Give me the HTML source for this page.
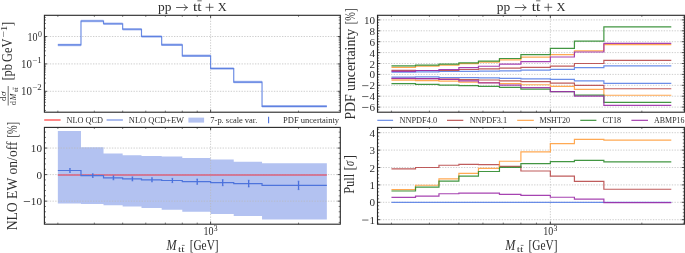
<!DOCTYPE html>
<html><head><meta charset="utf-8"><style>
html,body{margin:0;padding:0;background:#fff;}
svg{display:block;will-change:transform;font-family:"Liberation Serif",serif;}
text{fill:#2e2e2e;}
</style></head><body>
<svg width="685" height="253" viewBox="0 0 685 253">
<rect width="685" height="253" fill="#fff"/>
<line x1="44.4" y1="36.5" x2="340.3" y2="36.5" stroke="#b9b9b9" stroke-width="0.7" stroke-dasharray="1.35 1.35"/>
<line x1="44.4" y1="63.9" x2="340.3" y2="63.9" stroke="#b9b9b9" stroke-width="0.7" stroke-dasharray="1.35 1.35"/>
<line x1="44.4" y1="91.3" x2="340.3" y2="91.3" stroke="#b9b9b9" stroke-width="0.7" stroke-dasharray="1.35 1.35"/>
<line x1="210.6" y1="15.3" x2="210.6" y2="112.2" stroke="#b9b9b9" stroke-width="0.7" stroke-dasharray="1.35 1.35"/>
<path d="M57.85,43.65H80.98V19.75H103.52V22.45H122.66V27.95H141.49V35.25H161.67V43.55H182.29V54.55H210.6V67.25H233.73V80.85H262.04V105.05H326.85V107.55H262.04V83.35H233.73V69.75H210.6V57.05H182.29V46.05H161.67V37.75H141.49V30.45H122.66V24.95H103.52V22.25H80.98V46.15H57.85Z" fill="#b3c2f1"/>
<path d="M57.85,44.9H80.98V21H103.52V23.7H122.66V29.2H141.49V36.5H161.67V44.8H182.29V55.8H210.6V68.5H233.73V82.1H262.04V106.3H326.85" fill="none" stroke="#4f76de" stroke-width="1.15" stroke-opacity="0.85"/>
<line x1="44.4" y1="110.45" x2="46" y2="110.45" stroke="#262626" stroke-width="0.6"/>
<line x1="340.3" y1="110.45" x2="338.7" y2="110.45" stroke="#262626" stroke-width="0.6"/>
<line x1="44.4" y1="105.63" x2="46" y2="105.63" stroke="#262626" stroke-width="0.6"/>
<line x1="340.3" y1="105.63" x2="338.7" y2="105.63" stroke="#262626" stroke-width="0.6"/>
<line x1="44.4" y1="102.2" x2="46" y2="102.2" stroke="#262626" stroke-width="0.6"/>
<line x1="340.3" y1="102.2" x2="338.7" y2="102.2" stroke="#262626" stroke-width="0.6"/>
<line x1="44.4" y1="99.55" x2="46" y2="99.55" stroke="#262626" stroke-width="0.6"/>
<line x1="340.3" y1="99.55" x2="338.7" y2="99.55" stroke="#262626" stroke-width="0.6"/>
<line x1="44.4" y1="97.38" x2="46" y2="97.38" stroke="#262626" stroke-width="0.6"/>
<line x1="340.3" y1="97.38" x2="338.7" y2="97.38" stroke="#262626" stroke-width="0.6"/>
<line x1="44.4" y1="95.54" x2="46" y2="95.54" stroke="#262626" stroke-width="0.6"/>
<line x1="340.3" y1="95.54" x2="338.7" y2="95.54" stroke="#262626" stroke-width="0.6"/>
<line x1="44.4" y1="93.96" x2="46" y2="93.96" stroke="#262626" stroke-width="0.6"/>
<line x1="340.3" y1="93.96" x2="338.7" y2="93.96" stroke="#262626" stroke-width="0.6"/>
<line x1="44.4" y1="92.55" x2="46" y2="92.55" stroke="#262626" stroke-width="0.6"/>
<line x1="340.3" y1="92.55" x2="338.7" y2="92.55" stroke="#262626" stroke-width="0.6"/>
<line x1="44.4" y1="83.05" x2="46" y2="83.05" stroke="#262626" stroke-width="0.6"/>
<line x1="340.3" y1="83.05" x2="338.7" y2="83.05" stroke="#262626" stroke-width="0.6"/>
<line x1="44.4" y1="78.23" x2="46" y2="78.23" stroke="#262626" stroke-width="0.6"/>
<line x1="340.3" y1="78.23" x2="338.7" y2="78.23" stroke="#262626" stroke-width="0.6"/>
<line x1="44.4" y1="74.8" x2="46" y2="74.8" stroke="#262626" stroke-width="0.6"/>
<line x1="340.3" y1="74.8" x2="338.7" y2="74.8" stroke="#262626" stroke-width="0.6"/>
<line x1="44.4" y1="72.15" x2="46" y2="72.15" stroke="#262626" stroke-width="0.6"/>
<line x1="340.3" y1="72.15" x2="338.7" y2="72.15" stroke="#262626" stroke-width="0.6"/>
<line x1="44.4" y1="69.98" x2="46" y2="69.98" stroke="#262626" stroke-width="0.6"/>
<line x1="340.3" y1="69.98" x2="338.7" y2="69.98" stroke="#262626" stroke-width="0.6"/>
<line x1="44.4" y1="68.14" x2="46" y2="68.14" stroke="#262626" stroke-width="0.6"/>
<line x1="340.3" y1="68.14" x2="338.7" y2="68.14" stroke="#262626" stroke-width="0.6"/>
<line x1="44.4" y1="66.56" x2="46" y2="66.56" stroke="#262626" stroke-width="0.6"/>
<line x1="340.3" y1="66.56" x2="338.7" y2="66.56" stroke="#262626" stroke-width="0.6"/>
<line x1="44.4" y1="65.15" x2="46" y2="65.15" stroke="#262626" stroke-width="0.6"/>
<line x1="340.3" y1="65.15" x2="338.7" y2="65.15" stroke="#262626" stroke-width="0.6"/>
<line x1="44.4" y1="55.65" x2="46" y2="55.65" stroke="#262626" stroke-width="0.6"/>
<line x1="340.3" y1="55.65" x2="338.7" y2="55.65" stroke="#262626" stroke-width="0.6"/>
<line x1="44.4" y1="50.83" x2="46" y2="50.83" stroke="#262626" stroke-width="0.6"/>
<line x1="340.3" y1="50.83" x2="338.7" y2="50.83" stroke="#262626" stroke-width="0.6"/>
<line x1="44.4" y1="47.4" x2="46" y2="47.4" stroke="#262626" stroke-width="0.6"/>
<line x1="340.3" y1="47.4" x2="338.7" y2="47.4" stroke="#262626" stroke-width="0.6"/>
<line x1="44.4" y1="44.75" x2="46" y2="44.75" stroke="#262626" stroke-width="0.6"/>
<line x1="340.3" y1="44.75" x2="338.7" y2="44.75" stroke="#262626" stroke-width="0.6"/>
<line x1="44.4" y1="42.58" x2="46" y2="42.58" stroke="#262626" stroke-width="0.6"/>
<line x1="340.3" y1="42.58" x2="338.7" y2="42.58" stroke="#262626" stroke-width="0.6"/>
<line x1="44.4" y1="40.74" x2="46" y2="40.74" stroke="#262626" stroke-width="0.6"/>
<line x1="340.3" y1="40.74" x2="338.7" y2="40.74" stroke="#262626" stroke-width="0.6"/>
<line x1="44.4" y1="39.16" x2="46" y2="39.16" stroke="#262626" stroke-width="0.6"/>
<line x1="340.3" y1="39.16" x2="338.7" y2="39.16" stroke="#262626" stroke-width="0.6"/>
<line x1="44.4" y1="37.75" x2="46" y2="37.75" stroke="#262626" stroke-width="0.6"/>
<line x1="340.3" y1="37.75" x2="338.7" y2="37.75" stroke="#262626" stroke-width="0.6"/>
<line x1="44.4" y1="28.25" x2="46" y2="28.25" stroke="#262626" stroke-width="0.6"/>
<line x1="340.3" y1="28.25" x2="338.7" y2="28.25" stroke="#262626" stroke-width="0.6"/>
<line x1="44.4" y1="23.43" x2="46" y2="23.43" stroke="#262626" stroke-width="0.6"/>
<line x1="340.3" y1="23.43" x2="338.7" y2="23.43" stroke="#262626" stroke-width="0.6"/>
<line x1="44.4" y1="20" x2="46" y2="20" stroke="#262626" stroke-width="0.6"/>
<line x1="340.3" y1="20" x2="338.7" y2="20" stroke="#262626" stroke-width="0.6"/>
<line x1="44.4" y1="17.35" x2="46" y2="17.35" stroke="#262626" stroke-width="0.6"/>
<line x1="340.3" y1="17.35" x2="338.7" y2="17.35" stroke="#262626" stroke-width="0.6"/>
<line x1="44.4" y1="36.5" x2="47.1" y2="36.5" stroke="#262626" stroke-width="0.8"/>
<line x1="340.3" y1="36.5" x2="337.6" y2="36.5" stroke="#262626" stroke-width="0.8"/>
<line x1="44.4" y1="63.9" x2="47.1" y2="63.9" stroke="#262626" stroke-width="0.8"/>
<line x1="340.3" y1="63.9" x2="337.6" y2="63.9" stroke="#262626" stroke-width="0.8"/>
<line x1="44.4" y1="91.3" x2="47.1" y2="91.3" stroke="#262626" stroke-width="0.8"/>
<line x1="340.3" y1="91.3" x2="337.6" y2="91.3" stroke="#262626" stroke-width="0.8"/>
<line x1="57.85" y1="15.3" x2="57.85" y2="16.9" stroke="#262626" stroke-width="0.6"/>
<line x1="57.85" y1="112.2" x2="57.85" y2="110.6" stroke="#262626" stroke-width="0.6"/>
<line x1="94.35" y1="15.3" x2="94.35" y2="16.9" stroke="#262626" stroke-width="0.6"/>
<line x1="94.35" y1="112.2" x2="94.35" y2="110.6" stroke="#262626" stroke-width="0.6"/>
<line x1="122.66" y1="15.3" x2="122.66" y2="16.9" stroke="#262626" stroke-width="0.6"/>
<line x1="122.66" y1="112.2" x2="122.66" y2="110.6" stroke="#262626" stroke-width="0.6"/>
<line x1="145.79" y1="15.3" x2="145.79" y2="16.9" stroke="#262626" stroke-width="0.6"/>
<line x1="145.79" y1="112.2" x2="145.79" y2="110.6" stroke="#262626" stroke-width="0.6"/>
<line x1="165.35" y1="15.3" x2="165.35" y2="16.9" stroke="#262626" stroke-width="0.6"/>
<line x1="165.35" y1="112.2" x2="165.35" y2="110.6" stroke="#262626" stroke-width="0.6"/>
<line x1="182.29" y1="15.3" x2="182.29" y2="16.9" stroke="#262626" stroke-width="0.6"/>
<line x1="182.29" y1="112.2" x2="182.29" y2="110.6" stroke="#262626" stroke-width="0.6"/>
<line x1="197.23" y1="15.3" x2="197.23" y2="16.9" stroke="#262626" stroke-width="0.6"/>
<line x1="197.23" y1="112.2" x2="197.23" y2="110.6" stroke="#262626" stroke-width="0.6"/>
<line x1="298.54" y1="15.3" x2="298.54" y2="16.9" stroke="#262626" stroke-width="0.6"/>
<line x1="298.54" y1="112.2" x2="298.54" y2="110.6" stroke="#262626" stroke-width="0.6"/>
<line x1="210.6" y1="15.3" x2="210.6" y2="18" stroke="#262626" stroke-width="0.8"/>
<line x1="210.6" y1="112.2" x2="210.6" y2="109.5" stroke="#262626" stroke-width="0.8"/>
<rect x="44.4" y="15.3" width="295.9" height="96.9" fill="none" stroke="#262626" stroke-width="1.1"/>
<path d="M57.85,130.9H80.98V147.2H103.52V153.4H122.66V155.2H141.49V156.1H161.67V156.6H182.29V157.9H210.6V159.5H233.73V161.7H262.04V163.2H326.85V219.6H262.04V215.9H233.73V213.9H210.6V211.8H182.29V209.8H161.67V208H141.49V206.6H122.66V205.2H103.52V204H80.98V203.5H57.85Z" fill="#b3c2f1"/>
<line x1="44.4" y1="148.05" x2="340.3" y2="148.05" stroke="#b9b9b9" stroke-width="0.7" stroke-dasharray="1.35 1.35"/>
<line x1="44.4" y1="174.6" x2="340.3" y2="174.6" stroke="#b9b9b9" stroke-width="0.7" stroke-dasharray="1.35 1.35"/>
<line x1="44.4" y1="201.15" x2="340.3" y2="201.15" stroke="#b9b9b9" stroke-width="0.7" stroke-dasharray="1.35 1.35"/>
<line x1="210.6" y1="127.4" x2="210.6" y2="224.2" stroke="#b9b9b9" stroke-width="0.7" stroke-dasharray="1.35 1.35"/>
<line x1="57.85" y1="174.95" x2="326.85" y2="174.95" stroke="#da607c" stroke-width="1.6"/>
<path d="M57.85,170.5H80.98V175.6H103.52V177.8H122.66V178.9H141.49V179.8H161.67V180.5H182.29V181.7H210.6V182.7H233.73V183.6H262.04V185.4H326.85" fill="none" stroke="#4e74dc" stroke-width="1.2"/>
<line x1="69.94" y1="168.6" x2="69.94" y2="172.4" stroke="#4a70dc" stroke-width="1.3"/>
<line x1="69.14" y1="168.6" x2="70.74" y2="168.6" stroke="#4a70dc" stroke-width="0.8"/>
<line x1="69.14" y1="172.4" x2="70.74" y2="172.4" stroke="#4a70dc" stroke-width="0.8"/>
<line x1="92.75" y1="173.8" x2="92.75" y2="177.4" stroke="#4a70dc" stroke-width="1.3"/>
<line x1="91.95" y1="173.8" x2="93.55" y2="173.8" stroke="#4a70dc" stroke-width="0.8"/>
<line x1="91.95" y1="177.4" x2="93.55" y2="177.4" stroke="#4a70dc" stroke-width="0.8"/>
<line x1="113.45" y1="175.85" x2="113.45" y2="179.75" stroke="#4a70dc" stroke-width="1.3"/>
<line x1="112.65" y1="175.85" x2="114.25" y2="175.85" stroke="#4a70dc" stroke-width="0.8"/>
<line x1="112.65" y1="179.75" x2="114.25" y2="179.75" stroke="#4a70dc" stroke-width="0.8"/>
<line x1="132.42" y1="176.95" x2="132.42" y2="180.85" stroke="#4a70dc" stroke-width="1.3"/>
<line x1="131.62" y1="176.95" x2="133.22" y2="176.95" stroke="#4a70dc" stroke-width="0.8"/>
<line x1="131.62" y1="180.85" x2="133.22" y2="180.85" stroke="#4a70dc" stroke-width="0.8"/>
<line x1="151.98" y1="177.8" x2="151.98" y2="181.8" stroke="#4a70dc" stroke-width="1.3"/>
<line x1="151.18" y1="177.8" x2="152.78" y2="177.8" stroke="#4a70dc" stroke-width="0.8"/>
<line x1="151.18" y1="181.8" x2="152.78" y2="181.8" stroke="#4a70dc" stroke-width="0.8"/>
<line x1="172.4" y1="178.4" x2="172.4" y2="182.6" stroke="#4a70dc" stroke-width="1.3"/>
<line x1="171.6" y1="178.4" x2="173.2" y2="178.4" stroke="#4a70dc" stroke-width="0.8"/>
<line x1="171.6" y1="182.6" x2="173.2" y2="182.6" stroke="#4a70dc" stroke-width="0.8"/>
<line x1="197.23" y1="179.1" x2="197.23" y2="184.3" stroke="#4a70dc" stroke-width="1.3"/>
<line x1="196.43" y1="179.1" x2="198.03" y2="179.1" stroke="#4a70dc" stroke-width="0.8"/>
<line x1="196.43" y1="184.3" x2="198.03" y2="184.3" stroke="#4a70dc" stroke-width="0.8"/>
<line x1="222.69" y1="179.7" x2="222.69" y2="185.7" stroke="#4a70dc" stroke-width="1.3"/>
<line x1="221.89" y1="179.7" x2="223.49" y2="179.7" stroke="#4a70dc" stroke-width="0.8"/>
<line x1="221.89" y1="185.7" x2="223.49" y2="185.7" stroke="#4a70dc" stroke-width="0.8"/>
<line x1="248.67" y1="180.3" x2="248.67" y2="186.9" stroke="#4a70dc" stroke-width="1.3"/>
<line x1="247.87" y1="180.3" x2="249.47" y2="180.3" stroke="#4a70dc" stroke-width="0.8"/>
<line x1="247.87" y1="186.9" x2="249.47" y2="186.9" stroke="#4a70dc" stroke-width="0.8"/>
<line x1="298.54" y1="181.2" x2="298.54" y2="189.6" stroke="#4a70dc" stroke-width="1.3"/>
<line x1="297.74" y1="181.2" x2="299.34" y2="181.2" stroke="#4a70dc" stroke-width="0.8"/>
<line x1="297.74" y1="189.6" x2="299.34" y2="189.6" stroke="#4a70dc" stroke-width="0.8"/>
<line x1="44.4" y1="222.39" x2="46" y2="222.39" stroke="#262626" stroke-width="0.6"/>
<line x1="340.3" y1="222.39" x2="338.7" y2="222.39" stroke="#262626" stroke-width="0.6"/>
<line x1="44.4" y1="217.08" x2="46" y2="217.08" stroke="#262626" stroke-width="0.6"/>
<line x1="340.3" y1="217.08" x2="338.7" y2="217.08" stroke="#262626" stroke-width="0.6"/>
<line x1="44.4" y1="211.77" x2="46" y2="211.77" stroke="#262626" stroke-width="0.6"/>
<line x1="340.3" y1="211.77" x2="338.7" y2="211.77" stroke="#262626" stroke-width="0.6"/>
<line x1="44.4" y1="206.46" x2="46" y2="206.46" stroke="#262626" stroke-width="0.6"/>
<line x1="340.3" y1="206.46" x2="338.7" y2="206.46" stroke="#262626" stroke-width="0.6"/>
<line x1="44.4" y1="195.84" x2="46" y2="195.84" stroke="#262626" stroke-width="0.6"/>
<line x1="340.3" y1="195.84" x2="338.7" y2="195.84" stroke="#262626" stroke-width="0.6"/>
<line x1="44.4" y1="190.53" x2="46" y2="190.53" stroke="#262626" stroke-width="0.6"/>
<line x1="340.3" y1="190.53" x2="338.7" y2="190.53" stroke="#262626" stroke-width="0.6"/>
<line x1="44.4" y1="185.22" x2="46" y2="185.22" stroke="#262626" stroke-width="0.6"/>
<line x1="340.3" y1="185.22" x2="338.7" y2="185.22" stroke="#262626" stroke-width="0.6"/>
<line x1="44.4" y1="179.91" x2="46" y2="179.91" stroke="#262626" stroke-width="0.6"/>
<line x1="340.3" y1="179.91" x2="338.7" y2="179.91" stroke="#262626" stroke-width="0.6"/>
<line x1="44.4" y1="169.29" x2="46" y2="169.29" stroke="#262626" stroke-width="0.6"/>
<line x1="340.3" y1="169.29" x2="338.7" y2="169.29" stroke="#262626" stroke-width="0.6"/>
<line x1="44.4" y1="163.98" x2="46" y2="163.98" stroke="#262626" stroke-width="0.6"/>
<line x1="340.3" y1="163.98" x2="338.7" y2="163.98" stroke="#262626" stroke-width="0.6"/>
<line x1="44.4" y1="158.67" x2="46" y2="158.67" stroke="#262626" stroke-width="0.6"/>
<line x1="340.3" y1="158.67" x2="338.7" y2="158.67" stroke="#262626" stroke-width="0.6"/>
<line x1="44.4" y1="153.36" x2="46" y2="153.36" stroke="#262626" stroke-width="0.6"/>
<line x1="340.3" y1="153.36" x2="338.7" y2="153.36" stroke="#262626" stroke-width="0.6"/>
<line x1="44.4" y1="142.74" x2="46" y2="142.74" stroke="#262626" stroke-width="0.6"/>
<line x1="340.3" y1="142.74" x2="338.7" y2="142.74" stroke="#262626" stroke-width="0.6"/>
<line x1="44.4" y1="137.43" x2="46" y2="137.43" stroke="#262626" stroke-width="0.6"/>
<line x1="340.3" y1="137.43" x2="338.7" y2="137.43" stroke="#262626" stroke-width="0.6"/>
<line x1="44.4" y1="132.12" x2="46" y2="132.12" stroke="#262626" stroke-width="0.6"/>
<line x1="340.3" y1="132.12" x2="338.7" y2="132.12" stroke="#262626" stroke-width="0.6"/>
<line x1="44.4" y1="148.05" x2="47.1" y2="148.05" stroke="#262626" stroke-width="0.8"/>
<line x1="340.3" y1="148.05" x2="337.6" y2="148.05" stroke="#262626" stroke-width="0.8"/>
<line x1="44.4" y1="174.6" x2="47.1" y2="174.6" stroke="#262626" stroke-width="0.8"/>
<line x1="340.3" y1="174.6" x2="337.6" y2="174.6" stroke="#262626" stroke-width="0.8"/>
<line x1="44.4" y1="201.15" x2="47.1" y2="201.15" stroke="#262626" stroke-width="0.8"/>
<line x1="340.3" y1="201.15" x2="337.6" y2="201.15" stroke="#262626" stroke-width="0.8"/>
<line x1="57.85" y1="127.4" x2="57.85" y2="129" stroke="#262626" stroke-width="0.6"/>
<line x1="57.85" y1="224.2" x2="57.85" y2="222.6" stroke="#262626" stroke-width="0.6"/>
<line x1="94.35" y1="127.4" x2="94.35" y2="129" stroke="#262626" stroke-width="0.6"/>
<line x1="94.35" y1="224.2" x2="94.35" y2="222.6" stroke="#262626" stroke-width="0.6"/>
<line x1="122.66" y1="127.4" x2="122.66" y2="129" stroke="#262626" stroke-width="0.6"/>
<line x1="122.66" y1="224.2" x2="122.66" y2="222.6" stroke="#262626" stroke-width="0.6"/>
<line x1="145.79" y1="127.4" x2="145.79" y2="129" stroke="#262626" stroke-width="0.6"/>
<line x1="145.79" y1="224.2" x2="145.79" y2="222.6" stroke="#262626" stroke-width="0.6"/>
<line x1="165.35" y1="127.4" x2="165.35" y2="129" stroke="#262626" stroke-width="0.6"/>
<line x1="165.35" y1="224.2" x2="165.35" y2="222.6" stroke="#262626" stroke-width="0.6"/>
<line x1="182.29" y1="127.4" x2="182.29" y2="129" stroke="#262626" stroke-width="0.6"/>
<line x1="182.29" y1="224.2" x2="182.29" y2="222.6" stroke="#262626" stroke-width="0.6"/>
<line x1="197.23" y1="127.4" x2="197.23" y2="129" stroke="#262626" stroke-width="0.6"/>
<line x1="197.23" y1="224.2" x2="197.23" y2="222.6" stroke="#262626" stroke-width="0.6"/>
<line x1="298.54" y1="127.4" x2="298.54" y2="129" stroke="#262626" stroke-width="0.6"/>
<line x1="298.54" y1="224.2" x2="298.54" y2="222.6" stroke="#262626" stroke-width="0.6"/>
<line x1="210.6" y1="127.4" x2="210.6" y2="130.1" stroke="#262626" stroke-width="0.8"/>
<line x1="210.6" y1="224.2" x2="210.6" y2="221.5" stroke="#262626" stroke-width="0.8"/>
<rect x="44.4" y="127.4" width="295.9" height="96.8" fill="none" stroke="#262626" stroke-width="1.1"/>
<line x1="377.5" y1="107.1" x2="684.4" y2="107.1" stroke="#b9b9b9" stroke-width="0.7" stroke-dasharray="1.35 1.35"/>
<line x1="377.5" y1="96.2" x2="684.4" y2="96.2" stroke="#b9b9b9" stroke-width="0.7" stroke-dasharray="1.35 1.35"/>
<line x1="377.5" y1="85.3" x2="684.4" y2="85.3" stroke="#b9b9b9" stroke-width="0.7" stroke-dasharray="1.35 1.35"/>
<line x1="377.5" y1="74.4" x2="684.4" y2="74.4" stroke="#b9b9b9" stroke-width="0.7" stroke-dasharray="1.35 1.35"/>
<line x1="377.5" y1="63.5" x2="684.4" y2="63.5" stroke="#b9b9b9" stroke-width="0.7" stroke-dasharray="1.35 1.35"/>
<line x1="377.5" y1="52.6" x2="684.4" y2="52.6" stroke="#b9b9b9" stroke-width="0.7" stroke-dasharray="1.35 1.35"/>
<line x1="377.5" y1="41.7" x2="684.4" y2="41.7" stroke="#b9b9b9" stroke-width="0.7" stroke-dasharray="1.35 1.35"/>
<line x1="377.5" y1="30.8" x2="684.4" y2="30.8" stroke="#b9b9b9" stroke-width="0.7" stroke-dasharray="1.35 1.35"/>
<line x1="377.5" y1="19.9" x2="684.4" y2="19.9" stroke="#b9b9b9" stroke-width="0.7" stroke-dasharray="1.35 1.35"/>
<line x1="550.35" y1="15.3" x2="550.35" y2="112.2" stroke="#b9b9b9" stroke-width="0.7" stroke-dasharray="1.35 1.35"/>
<path d="M391.45,72.22H415.51V71.78H438.96V71.4H458.87V71.29H478.46V71.13H499.45V70.8H520.9V70.2H550.35V69.39H574.42V67.59H603.87V65.9H671.29" fill="none" stroke="#5b82e6" stroke-width="1.2" stroke-opacity="0.9"/>
<path d="M391.45,77.12H415.51V76.91H438.96V77.51H458.87V77.67H478.46V77.78H499.45V78.38H520.9V78.81H550.35V79.41H574.42V80.83H603.87V83.28H671.29" fill="none" stroke="#5b82e6" stroke-width="1.2" stroke-opacity="0.9"/>
<path d="M391.45,70.42H415.51V70.48H438.96V70.48H458.87V69.5H478.46V68.79H499.45V68.19H520.9V67.42H550.35V66.12H574.42V63.5H603.87V60.45H671.29" fill="none" stroke="#b84a4a" stroke-width="1.2" stroke-opacity="0.9"/>
<path d="M391.45,78.76H415.51V78.65H438.96V79.2H458.87V79.58H478.46V80.01H499.45V80.83H520.9V81.65H550.35V83.12H574.42V85.3H603.87V88.73H671.29" fill="none" stroke="#b84a4a" stroke-width="1.2" stroke-opacity="0.9"/>
<path d="M391.45,67.31H415.51V66.12H438.96V65.19H458.87V63.61H478.46V62.14H499.45V59.9H520.9V57.12H550.35V54.56H574.42V50.8H603.87V44.7H671.29" fill="none" stroke="#ffa040" stroke-width="1.2" stroke-opacity="0.9"/>
<path d="M391.45,80.12H415.51V80.72H438.96V81.21H458.87V82.08H478.46V82.68H499.45V83.61H520.9V84.76H550.35V86.28H574.42V89.33H603.87V95.27H671.29" fill="none" stroke="#ffa040" stroke-width="1.2" stroke-opacity="0.9"/>
<path d="M391.45,65.9H415.51V65.19H438.96V64.1H458.87V62.9H478.46V61.1H499.45V58.49H520.9V54.56H550.35V48.29H574.42V41.21H603.87V26.88H671.29" fill="none" stroke="#2e8b2e" stroke-width="1.2" stroke-opacity="0.9"/>
<path d="M391.45,83.72H415.51V84.37H438.96V85.08H458.87V85.57H478.46V86.28H499.45V87.32H520.9V89.12H550.35V91.62H574.42V95.22H603.87V102.3H671.29" fill="none" stroke="#2e8b2e" stroke-width="1.2" stroke-opacity="0.9"/>
<path d="M391.45,71.29H415.51V70.48H438.96V69.5H458.87V67.59H478.46V66.23H499.45V64.21H520.9V61.54H550.35V57.01H574.42V52H603.87V43.28H671.29" fill="none" stroke="#9c2fa8" stroke-width="1.2" stroke-opacity="0.9"/>
<path d="M391.45,78.32H415.51V78.6H438.96V79.41H458.87V80.78H478.46V82.9H499.45V85.03H520.9V87.53H550.35V91.62H574.42V96.09H603.87V105.3H671.29" fill="none" stroke="#9c2fa8" stroke-width="1.2" stroke-opacity="0.9"/>
<line x1="377.5" y1="109.83" x2="379.1" y2="109.83" stroke="#262626" stroke-width="0.6"/>
<line x1="684.4" y1="109.83" x2="682.8" y2="109.83" stroke="#262626" stroke-width="0.6"/>
<line x1="377.5" y1="104.38" x2="379.1" y2="104.38" stroke="#262626" stroke-width="0.6"/>
<line x1="684.4" y1="104.38" x2="682.8" y2="104.38" stroke="#262626" stroke-width="0.6"/>
<line x1="377.5" y1="101.65" x2="379.1" y2="101.65" stroke="#262626" stroke-width="0.6"/>
<line x1="684.4" y1="101.65" x2="682.8" y2="101.65" stroke="#262626" stroke-width="0.6"/>
<line x1="377.5" y1="98.93" x2="379.1" y2="98.93" stroke="#262626" stroke-width="0.6"/>
<line x1="684.4" y1="98.93" x2="682.8" y2="98.93" stroke="#262626" stroke-width="0.6"/>
<line x1="377.5" y1="93.48" x2="379.1" y2="93.48" stroke="#262626" stroke-width="0.6"/>
<line x1="684.4" y1="93.48" x2="682.8" y2="93.48" stroke="#262626" stroke-width="0.6"/>
<line x1="377.5" y1="90.75" x2="379.1" y2="90.75" stroke="#262626" stroke-width="0.6"/>
<line x1="684.4" y1="90.75" x2="682.8" y2="90.75" stroke="#262626" stroke-width="0.6"/>
<line x1="377.5" y1="88.03" x2="379.1" y2="88.03" stroke="#262626" stroke-width="0.6"/>
<line x1="684.4" y1="88.03" x2="682.8" y2="88.03" stroke="#262626" stroke-width="0.6"/>
<line x1="377.5" y1="82.58" x2="379.1" y2="82.58" stroke="#262626" stroke-width="0.6"/>
<line x1="684.4" y1="82.58" x2="682.8" y2="82.58" stroke="#262626" stroke-width="0.6"/>
<line x1="377.5" y1="79.85" x2="379.1" y2="79.85" stroke="#262626" stroke-width="0.6"/>
<line x1="684.4" y1="79.85" x2="682.8" y2="79.85" stroke="#262626" stroke-width="0.6"/>
<line x1="377.5" y1="77.12" x2="379.1" y2="77.12" stroke="#262626" stroke-width="0.6"/>
<line x1="684.4" y1="77.12" x2="682.8" y2="77.12" stroke="#262626" stroke-width="0.6"/>
<line x1="377.5" y1="71.68" x2="379.1" y2="71.68" stroke="#262626" stroke-width="0.6"/>
<line x1="684.4" y1="71.68" x2="682.8" y2="71.68" stroke="#262626" stroke-width="0.6"/>
<line x1="377.5" y1="68.95" x2="379.1" y2="68.95" stroke="#262626" stroke-width="0.6"/>
<line x1="684.4" y1="68.95" x2="682.8" y2="68.95" stroke="#262626" stroke-width="0.6"/>
<line x1="377.5" y1="66.23" x2="379.1" y2="66.23" stroke="#262626" stroke-width="0.6"/>
<line x1="684.4" y1="66.23" x2="682.8" y2="66.23" stroke="#262626" stroke-width="0.6"/>
<line x1="377.5" y1="60.78" x2="379.1" y2="60.78" stroke="#262626" stroke-width="0.6"/>
<line x1="684.4" y1="60.78" x2="682.8" y2="60.78" stroke="#262626" stroke-width="0.6"/>
<line x1="377.5" y1="58.05" x2="379.1" y2="58.05" stroke="#262626" stroke-width="0.6"/>
<line x1="684.4" y1="58.05" x2="682.8" y2="58.05" stroke="#262626" stroke-width="0.6"/>
<line x1="377.5" y1="55.33" x2="379.1" y2="55.33" stroke="#262626" stroke-width="0.6"/>
<line x1="684.4" y1="55.33" x2="682.8" y2="55.33" stroke="#262626" stroke-width="0.6"/>
<line x1="377.5" y1="49.88" x2="379.1" y2="49.88" stroke="#262626" stroke-width="0.6"/>
<line x1="684.4" y1="49.88" x2="682.8" y2="49.88" stroke="#262626" stroke-width="0.6"/>
<line x1="377.5" y1="47.15" x2="379.1" y2="47.15" stroke="#262626" stroke-width="0.6"/>
<line x1="684.4" y1="47.15" x2="682.8" y2="47.15" stroke="#262626" stroke-width="0.6"/>
<line x1="377.5" y1="44.43" x2="379.1" y2="44.43" stroke="#262626" stroke-width="0.6"/>
<line x1="684.4" y1="44.43" x2="682.8" y2="44.43" stroke="#262626" stroke-width="0.6"/>
<line x1="377.5" y1="38.98" x2="379.1" y2="38.98" stroke="#262626" stroke-width="0.6"/>
<line x1="684.4" y1="38.98" x2="682.8" y2="38.98" stroke="#262626" stroke-width="0.6"/>
<line x1="377.5" y1="36.25" x2="379.1" y2="36.25" stroke="#262626" stroke-width="0.6"/>
<line x1="684.4" y1="36.25" x2="682.8" y2="36.25" stroke="#262626" stroke-width="0.6"/>
<line x1="377.5" y1="33.53" x2="379.1" y2="33.53" stroke="#262626" stroke-width="0.6"/>
<line x1="684.4" y1="33.53" x2="682.8" y2="33.53" stroke="#262626" stroke-width="0.6"/>
<line x1="377.5" y1="28.08" x2="379.1" y2="28.08" stroke="#262626" stroke-width="0.6"/>
<line x1="684.4" y1="28.08" x2="682.8" y2="28.08" stroke="#262626" stroke-width="0.6"/>
<line x1="377.5" y1="25.35" x2="379.1" y2="25.35" stroke="#262626" stroke-width="0.6"/>
<line x1="684.4" y1="25.35" x2="682.8" y2="25.35" stroke="#262626" stroke-width="0.6"/>
<line x1="377.5" y1="22.63" x2="379.1" y2="22.63" stroke="#262626" stroke-width="0.6"/>
<line x1="684.4" y1="22.63" x2="682.8" y2="22.63" stroke="#262626" stroke-width="0.6"/>
<line x1="377.5" y1="17.18" x2="379.1" y2="17.18" stroke="#262626" stroke-width="0.6"/>
<line x1="684.4" y1="17.18" x2="682.8" y2="17.18" stroke="#262626" stroke-width="0.6"/>
<line x1="377.5" y1="107.1" x2="380.2" y2="107.1" stroke="#262626" stroke-width="0.8"/>
<line x1="684.4" y1="107.1" x2="681.7" y2="107.1" stroke="#262626" stroke-width="0.8"/>
<line x1="377.5" y1="96.2" x2="380.2" y2="96.2" stroke="#262626" stroke-width="0.8"/>
<line x1="684.4" y1="96.2" x2="681.7" y2="96.2" stroke="#262626" stroke-width="0.8"/>
<line x1="377.5" y1="85.3" x2="380.2" y2="85.3" stroke="#262626" stroke-width="0.8"/>
<line x1="684.4" y1="85.3" x2="681.7" y2="85.3" stroke="#262626" stroke-width="0.8"/>
<line x1="377.5" y1="74.4" x2="380.2" y2="74.4" stroke="#262626" stroke-width="0.8"/>
<line x1="684.4" y1="74.4" x2="681.7" y2="74.4" stroke="#262626" stroke-width="0.8"/>
<line x1="377.5" y1="63.5" x2="380.2" y2="63.5" stroke="#262626" stroke-width="0.8"/>
<line x1="684.4" y1="63.5" x2="681.7" y2="63.5" stroke="#262626" stroke-width="0.8"/>
<line x1="377.5" y1="52.6" x2="380.2" y2="52.6" stroke="#262626" stroke-width="0.8"/>
<line x1="684.4" y1="52.6" x2="681.7" y2="52.6" stroke="#262626" stroke-width="0.8"/>
<line x1="377.5" y1="41.7" x2="380.2" y2="41.7" stroke="#262626" stroke-width="0.8"/>
<line x1="684.4" y1="41.7" x2="681.7" y2="41.7" stroke="#262626" stroke-width="0.8"/>
<line x1="377.5" y1="30.8" x2="380.2" y2="30.8" stroke="#262626" stroke-width="0.8"/>
<line x1="684.4" y1="30.8" x2="681.7" y2="30.8" stroke="#262626" stroke-width="0.8"/>
<line x1="377.5" y1="19.9" x2="380.2" y2="19.9" stroke="#262626" stroke-width="0.8"/>
<line x1="684.4" y1="19.9" x2="681.7" y2="19.9" stroke="#262626" stroke-width="0.8"/>
<line x1="391.45" y1="15.3" x2="391.45" y2="16.9" stroke="#262626" stroke-width="0.6"/>
<line x1="391.45" y1="112.2" x2="391.45" y2="110.6" stroke="#262626" stroke-width="0.6"/>
<line x1="429.42" y1="15.3" x2="429.42" y2="16.9" stroke="#262626" stroke-width="0.6"/>
<line x1="429.42" y1="112.2" x2="429.42" y2="110.6" stroke="#262626" stroke-width="0.6"/>
<line x1="458.87" y1="15.3" x2="458.87" y2="16.9" stroke="#262626" stroke-width="0.6"/>
<line x1="458.87" y1="112.2" x2="458.87" y2="110.6" stroke="#262626" stroke-width="0.6"/>
<line x1="482.93" y1="15.3" x2="482.93" y2="16.9" stroke="#262626" stroke-width="0.6"/>
<line x1="482.93" y1="112.2" x2="482.93" y2="110.6" stroke="#262626" stroke-width="0.6"/>
<line x1="503.28" y1="15.3" x2="503.28" y2="16.9" stroke="#262626" stroke-width="0.6"/>
<line x1="503.28" y1="112.2" x2="503.28" y2="110.6" stroke="#262626" stroke-width="0.6"/>
<line x1="520.9" y1="15.3" x2="520.9" y2="16.9" stroke="#262626" stroke-width="0.6"/>
<line x1="520.9" y1="112.2" x2="520.9" y2="110.6" stroke="#262626" stroke-width="0.6"/>
<line x1="536.45" y1="15.3" x2="536.45" y2="16.9" stroke="#262626" stroke-width="0.6"/>
<line x1="536.45" y1="112.2" x2="536.45" y2="110.6" stroke="#262626" stroke-width="0.6"/>
<line x1="641.84" y1="15.3" x2="641.84" y2="16.9" stroke="#262626" stroke-width="0.6"/>
<line x1="641.84" y1="112.2" x2="641.84" y2="110.6" stroke="#262626" stroke-width="0.6"/>
<line x1="550.35" y1="15.3" x2="550.35" y2="18" stroke="#262626" stroke-width="0.8"/>
<line x1="550.35" y1="112.2" x2="550.35" y2="109.5" stroke="#262626" stroke-width="0.8"/>
<rect x="377.5" y="15.3" width="306.9" height="96.9" fill="none" stroke="#262626" stroke-width="1.1"/>
<line x1="377.5" y1="219.7" x2="684.4" y2="219.7" stroke="#b9b9b9" stroke-width="0.7" stroke-dasharray="1.35 1.35"/>
<line x1="377.5" y1="202.3" x2="684.4" y2="202.3" stroke="#b9b9b9" stroke-width="0.7" stroke-dasharray="1.35 1.35"/>
<line x1="377.5" y1="184.9" x2="684.4" y2="184.9" stroke="#b9b9b9" stroke-width="0.7" stroke-dasharray="1.35 1.35"/>
<line x1="377.5" y1="167.5" x2="684.4" y2="167.5" stroke="#b9b9b9" stroke-width="0.7" stroke-dasharray="1.35 1.35"/>
<line x1="377.5" y1="150.1" x2="684.4" y2="150.1" stroke="#b9b9b9" stroke-width="0.7" stroke-dasharray="1.35 1.35"/>
<line x1="377.5" y1="132.7" x2="684.4" y2="132.7" stroke="#b9b9b9" stroke-width="0.7" stroke-dasharray="1.35 1.35"/>
<line x1="550.35" y1="127.4" x2="550.35" y2="224.2" stroke="#b9b9b9" stroke-width="0.7" stroke-dasharray="1.35 1.35"/>
<path d="M391.45,202.3H415.51V202.3H438.96V202.3H458.87V202.3H478.46V202.3H499.45V202.3H520.9V202.3H550.35V202.3H574.42V202.3H603.87V202.3H671.29" fill="none" stroke="#5b82e6" stroke-width="1.2" stroke-opacity="0.9"/>
<path d="M391.45,168.89H415.51V167.5H438.96V165.24H458.87V164.37H478.46V164.72H499.45V166.28H520.9V170.98H550.35V176.03H574.42V181.42H603.87V189.25H671.29" fill="none" stroke="#b84a4a" stroke-width="1.2" stroke-opacity="0.9"/>
<path d="M391.45,189.6H415.51V185.25H438.96V178.81H458.87V173.42H478.46V168.37H499.45V161.24H520.9V151.84H550.35V143.66H574.42V139.31H603.87V140.18H671.29" fill="none" stroke="#ffa040" stroke-width="1.2" stroke-opacity="0.9"/>
<path d="M391.45,190.99H415.51V187.16H438.96V181.07H458.87V176.03H478.46V171.5H499.45V167.33H520.9V163.67H550.35V161.58H574.42V160.37H603.87V161.93H671.29" fill="none" stroke="#2e8b2e" stroke-width="1.2" stroke-opacity="0.9"/>
<path d="M391.45,197.43H415.51V196.04H438.96V193.77H458.87V193.08H478.46V193.08H499.45V194.3H520.9V195.34H550.35V197.25H574.42V199.17H603.87V202.65H671.29" fill="none" stroke="#9c2fa8" stroke-width="1.2" stroke-opacity="0.9"/>
<line x1="377.5" y1="223.18" x2="379.1" y2="223.18" stroke="#262626" stroke-width="0.6"/>
<line x1="684.4" y1="223.18" x2="682.8" y2="223.18" stroke="#262626" stroke-width="0.6"/>
<line x1="377.5" y1="216.22" x2="379.1" y2="216.22" stroke="#262626" stroke-width="0.6"/>
<line x1="684.4" y1="216.22" x2="682.8" y2="216.22" stroke="#262626" stroke-width="0.6"/>
<line x1="377.5" y1="212.74" x2="379.1" y2="212.74" stroke="#262626" stroke-width="0.6"/>
<line x1="684.4" y1="212.74" x2="682.8" y2="212.74" stroke="#262626" stroke-width="0.6"/>
<line x1="377.5" y1="209.26" x2="379.1" y2="209.26" stroke="#262626" stroke-width="0.6"/>
<line x1="684.4" y1="209.26" x2="682.8" y2="209.26" stroke="#262626" stroke-width="0.6"/>
<line x1="377.5" y1="205.78" x2="379.1" y2="205.78" stroke="#262626" stroke-width="0.6"/>
<line x1="684.4" y1="205.78" x2="682.8" y2="205.78" stroke="#262626" stroke-width="0.6"/>
<line x1="377.5" y1="198.82" x2="379.1" y2="198.82" stroke="#262626" stroke-width="0.6"/>
<line x1="684.4" y1="198.82" x2="682.8" y2="198.82" stroke="#262626" stroke-width="0.6"/>
<line x1="377.5" y1="195.34" x2="379.1" y2="195.34" stroke="#262626" stroke-width="0.6"/>
<line x1="684.4" y1="195.34" x2="682.8" y2="195.34" stroke="#262626" stroke-width="0.6"/>
<line x1="377.5" y1="191.86" x2="379.1" y2="191.86" stroke="#262626" stroke-width="0.6"/>
<line x1="684.4" y1="191.86" x2="682.8" y2="191.86" stroke="#262626" stroke-width="0.6"/>
<line x1="377.5" y1="188.38" x2="379.1" y2="188.38" stroke="#262626" stroke-width="0.6"/>
<line x1="684.4" y1="188.38" x2="682.8" y2="188.38" stroke="#262626" stroke-width="0.6"/>
<line x1="377.5" y1="181.42" x2="379.1" y2="181.42" stroke="#262626" stroke-width="0.6"/>
<line x1="684.4" y1="181.42" x2="682.8" y2="181.42" stroke="#262626" stroke-width="0.6"/>
<line x1="377.5" y1="177.94" x2="379.1" y2="177.94" stroke="#262626" stroke-width="0.6"/>
<line x1="684.4" y1="177.94" x2="682.8" y2="177.94" stroke="#262626" stroke-width="0.6"/>
<line x1="377.5" y1="174.46" x2="379.1" y2="174.46" stroke="#262626" stroke-width="0.6"/>
<line x1="684.4" y1="174.46" x2="682.8" y2="174.46" stroke="#262626" stroke-width="0.6"/>
<line x1="377.5" y1="170.98" x2="379.1" y2="170.98" stroke="#262626" stroke-width="0.6"/>
<line x1="684.4" y1="170.98" x2="682.8" y2="170.98" stroke="#262626" stroke-width="0.6"/>
<line x1="377.5" y1="164.02" x2="379.1" y2="164.02" stroke="#262626" stroke-width="0.6"/>
<line x1="684.4" y1="164.02" x2="682.8" y2="164.02" stroke="#262626" stroke-width="0.6"/>
<line x1="377.5" y1="160.54" x2="379.1" y2="160.54" stroke="#262626" stroke-width="0.6"/>
<line x1="684.4" y1="160.54" x2="682.8" y2="160.54" stroke="#262626" stroke-width="0.6"/>
<line x1="377.5" y1="157.06" x2="379.1" y2="157.06" stroke="#262626" stroke-width="0.6"/>
<line x1="684.4" y1="157.06" x2="682.8" y2="157.06" stroke="#262626" stroke-width="0.6"/>
<line x1="377.5" y1="153.58" x2="379.1" y2="153.58" stroke="#262626" stroke-width="0.6"/>
<line x1="684.4" y1="153.58" x2="682.8" y2="153.58" stroke="#262626" stroke-width="0.6"/>
<line x1="377.5" y1="146.62" x2="379.1" y2="146.62" stroke="#262626" stroke-width="0.6"/>
<line x1="684.4" y1="146.62" x2="682.8" y2="146.62" stroke="#262626" stroke-width="0.6"/>
<line x1="377.5" y1="143.14" x2="379.1" y2="143.14" stroke="#262626" stroke-width="0.6"/>
<line x1="684.4" y1="143.14" x2="682.8" y2="143.14" stroke="#262626" stroke-width="0.6"/>
<line x1="377.5" y1="139.66" x2="379.1" y2="139.66" stroke="#262626" stroke-width="0.6"/>
<line x1="684.4" y1="139.66" x2="682.8" y2="139.66" stroke="#262626" stroke-width="0.6"/>
<line x1="377.5" y1="136.18" x2="379.1" y2="136.18" stroke="#262626" stroke-width="0.6"/>
<line x1="684.4" y1="136.18" x2="682.8" y2="136.18" stroke="#262626" stroke-width="0.6"/>
<line x1="377.5" y1="129.22" x2="379.1" y2="129.22" stroke="#262626" stroke-width="0.6"/>
<line x1="684.4" y1="129.22" x2="682.8" y2="129.22" stroke="#262626" stroke-width="0.6"/>
<line x1="377.5" y1="219.7" x2="380.2" y2="219.7" stroke="#262626" stroke-width="0.8"/>
<line x1="684.4" y1="219.7" x2="681.7" y2="219.7" stroke="#262626" stroke-width="0.8"/>
<line x1="377.5" y1="202.3" x2="380.2" y2="202.3" stroke="#262626" stroke-width="0.8"/>
<line x1="684.4" y1="202.3" x2="681.7" y2="202.3" stroke="#262626" stroke-width="0.8"/>
<line x1="377.5" y1="184.9" x2="380.2" y2="184.9" stroke="#262626" stroke-width="0.8"/>
<line x1="684.4" y1="184.9" x2="681.7" y2="184.9" stroke="#262626" stroke-width="0.8"/>
<line x1="377.5" y1="167.5" x2="380.2" y2="167.5" stroke="#262626" stroke-width="0.8"/>
<line x1="684.4" y1="167.5" x2="681.7" y2="167.5" stroke="#262626" stroke-width="0.8"/>
<line x1="377.5" y1="150.1" x2="380.2" y2="150.1" stroke="#262626" stroke-width="0.8"/>
<line x1="684.4" y1="150.1" x2="681.7" y2="150.1" stroke="#262626" stroke-width="0.8"/>
<line x1="377.5" y1="132.7" x2="380.2" y2="132.7" stroke="#262626" stroke-width="0.8"/>
<line x1="684.4" y1="132.7" x2="681.7" y2="132.7" stroke="#262626" stroke-width="0.8"/>
<line x1="391.45" y1="127.4" x2="391.45" y2="129" stroke="#262626" stroke-width="0.6"/>
<line x1="391.45" y1="224.2" x2="391.45" y2="222.6" stroke="#262626" stroke-width="0.6"/>
<line x1="429.42" y1="127.4" x2="429.42" y2="129" stroke="#262626" stroke-width="0.6"/>
<line x1="429.42" y1="224.2" x2="429.42" y2="222.6" stroke="#262626" stroke-width="0.6"/>
<line x1="458.87" y1="127.4" x2="458.87" y2="129" stroke="#262626" stroke-width="0.6"/>
<line x1="458.87" y1="224.2" x2="458.87" y2="222.6" stroke="#262626" stroke-width="0.6"/>
<line x1="482.93" y1="127.4" x2="482.93" y2="129" stroke="#262626" stroke-width="0.6"/>
<line x1="482.93" y1="224.2" x2="482.93" y2="222.6" stroke="#262626" stroke-width="0.6"/>
<line x1="503.28" y1="127.4" x2="503.28" y2="129" stroke="#262626" stroke-width="0.6"/>
<line x1="503.28" y1="224.2" x2="503.28" y2="222.6" stroke="#262626" stroke-width="0.6"/>
<line x1="520.9" y1="127.4" x2="520.9" y2="129" stroke="#262626" stroke-width="0.6"/>
<line x1="520.9" y1="224.2" x2="520.9" y2="222.6" stroke="#262626" stroke-width="0.6"/>
<line x1="536.45" y1="127.4" x2="536.45" y2="129" stroke="#262626" stroke-width="0.6"/>
<line x1="536.45" y1="224.2" x2="536.45" y2="222.6" stroke="#262626" stroke-width="0.6"/>
<line x1="641.84" y1="127.4" x2="641.84" y2="129" stroke="#262626" stroke-width="0.6"/>
<line x1="641.84" y1="224.2" x2="641.84" y2="222.6" stroke="#262626" stroke-width="0.6"/>
<line x1="550.35" y1="127.4" x2="550.35" y2="130.1" stroke="#262626" stroke-width="0.8"/>
<line x1="550.35" y1="224.2" x2="550.35" y2="221.5" stroke="#262626" stroke-width="0.8"/>
<rect x="377.5" y="127.4" width="306.9" height="96.8" fill="none" stroke="#262626" stroke-width="1.1"/>
<line x1="44.2" y1="120.0" x2="60.6" y2="120.0" stroke="#ff7b7b" stroke-width="1.8"/>
<line x1="106.6" y1="120.0" x2="122.9" y2="120.0" stroke="#a3b6ee" stroke-width="1.8"/>
<rect x="188.4" y="117.6" width="15.7" height="5" fill="#b3c2f1"/>
<line x1="268.6" y1="116.7" x2="268.6" y2="123.2" stroke="#4a70dc" stroke-width="1.1"/>
<text x="66.45" y="122.6" font-size="8.3" textLength="36.45" lengthAdjust="spacingAndGlyphs">NLO QCD</text>
<text x="128.85" y="122.6" font-size="8.3" textLength="55.26" lengthAdjust="spacingAndGlyphs">NLO QCD+EW</text>
<text x="210.35" y="122.6" font-size="8.3" textLength="46.98" lengthAdjust="spacingAndGlyphs">7-p. scale var.</text>
<text x="283.14" y="122.6" font-size="8.3" textLength="55.98" lengthAdjust="spacingAndGlyphs">PDF uncertainty</text>
<line x1="377.3" y1="120.3" x2="393.1" y2="120.3" stroke="#5b82e6" stroke-width="1.1"/>
<line x1="447.0" y1="120.3" x2="463.3" y2="120.3" stroke="#b84a4a" stroke-width="1.1"/>
<line x1="517.2" y1="120.3" x2="533.8" y2="120.3" stroke="#ffa040" stroke-width="1.1"/>
<line x1="580.3" y1="120.3" x2="596.4" y2="120.3" stroke="#2e8b2e" stroke-width="1.1"/>
<line x1="631.4" y1="120.3" x2="648.0" y2="120.3" stroke="#9c2fa8" stroke-width="1.1"/>
<text x="399.45" y="122.6" font-size="8.3" textLength="37.73" lengthAdjust="spacingAndGlyphs">NNPDF4.0</text>
<text x="469.65" y="122.6" font-size="8.3" textLength="37.43" lengthAdjust="spacingAndGlyphs">NNPDF3.1</text>
<text x="539.46" y="122.6" font-size="8.3" textLength="30.51" lengthAdjust="spacingAndGlyphs">MSHT20</text>
<text x="602.47" y="122.6" font-size="8.3" textLength="18.6" lengthAdjust="spacingAndGlyphs">CT18</text>
<text x="654.02" y="122.6" font-size="8.3" textLength="30.51" lengthAdjust="spacingAndGlyphs">ABMP16</text>
<text x="27.55" y="40.9" font-size="11.8" textLength="10" lengthAdjust="spacingAndGlyphs">10</text>
<text x="37.92" y="36.7" font-size="7.4" textLength="3.95" lengthAdjust="spacingAndGlyphs">0</text>
<text x="21.07" y="67.9" font-size="11.8" textLength="10.91" lengthAdjust="spacingAndGlyphs">10</text>
<text x="32.25" y="63" font-size="7.4" textLength="9.58" lengthAdjust="spacingAndGlyphs">−1</text>
<text x="21.07" y="95.3" font-size="11.8" textLength="10.91" lengthAdjust="spacingAndGlyphs">10</text>
<text x="32.25" y="90.4" font-size="7.4" textLength="9.53" lengthAdjust="spacingAndGlyphs">−2</text>
<text x="41.95" y="152.05" font-size="11.1" text-anchor="end">10</text>
<text x="41.95" y="178.6" font-size="11.1" text-anchor="end">0</text>
<text x="41.95" y="205.15" font-size="11.1" text-anchor="end">10</text><path d="M23.75,201.5 H30.05" stroke="#2e2e2e" stroke-width="0.72"/>
<text x="375.05" y="111.1" font-size="11.1" text-anchor="end">6</text><path d="M362.15,107.45 H368.45" stroke="#2e2e2e" stroke-width="0.72"/>
<text x="375.05" y="100.2" font-size="11.1" text-anchor="end">4</text><path d="M362.15,96.55 H368.45" stroke="#2e2e2e" stroke-width="0.72"/>
<text x="375.05" y="89.3" font-size="11.1" text-anchor="end">2</text><path d="M362.15,85.65 H368.45" stroke="#2e2e2e" stroke-width="0.72"/>
<text x="375.05" y="78.4" font-size="11.1" text-anchor="end">0</text>
<text x="375.05" y="67.5" font-size="11.1" text-anchor="end">2</text>
<text x="375.05" y="56.6" font-size="11.1" text-anchor="end">4</text>
<text x="375.05" y="45.7" font-size="11.1" text-anchor="end">6</text>
<text x="375.05" y="34.8" font-size="11.1" text-anchor="end">8</text>
<text x="375.05" y="23.9" font-size="11.1" text-anchor="end">10</text>
<text x="375.05" y="223.7" font-size="11.1" text-anchor="end">1</text><path d="M362.15,220.05 H368.45" stroke="#2e2e2e" stroke-width="0.72"/>
<text x="375.05" y="206.3" font-size="11.1" text-anchor="end">0</text>
<text x="375.05" y="188.9" font-size="11.1" text-anchor="end">1</text>
<text x="375.05" y="171.5" font-size="11.1" text-anchor="end">2</text>
<text x="375.05" y="154.1" font-size="11.1" text-anchor="end">3</text>
<text x="375.05" y="136.7" font-size="11.1" text-anchor="end">4</text>
<g transform="translate(0,0)"><text x="203.55" y="234.9" font-size="11.8" textLength="10" lengthAdjust="spacingAndGlyphs">10</text><text x="213.65" y="230.5" font-size="7.4" textLength="3.86" lengthAdjust="spacingAndGlyphs">3</text></g>
<g transform="translate(339.75,0)"><text x="203.55" y="234.9" font-size="11.8" textLength="10" lengthAdjust="spacingAndGlyphs">10</text><text x="213.65" y="230.5" font-size="7.4" textLength="3.86" lengthAdjust="spacingAndGlyphs">3</text></g>
<g transform="translate(0,0)"><text x="158.1" y="10.5" font-size="13.4" textLength="13.44" lengthAdjust="spacingAndGlyphs">pp</text><path d="M176.1,7.5H187.3" stroke="#2e2e2e" stroke-width="0.75" fill="none"/><path d="M184.2,4.3Q185.2,6.9 187.6,7.5Q185.2,8.1 184.2,10.7" stroke="#2e2e2e" stroke-width="0.75" fill="none"/><text x="192.95" y="10.5" font-size="13.4" textLength="8.56" lengthAdjust="spacingAndGlyphs">tt</text><path d="M197.4,0.8H201.7" stroke="#2e2e2e" stroke-width="0.7"/><path d="M205.6,7.3H213.5M209.55,3.5V11.3" stroke="#2e2e2e" stroke-width="0.75"/><text x="217.75" y="10.5" font-size="13.4" textLength="8.96" lengthAdjust="spacingAndGlyphs">X</text></g>
<g transform="translate(338.7,0)"><text x="158.1" y="10.5" font-size="13.4" textLength="13.44" lengthAdjust="spacingAndGlyphs">pp</text><path d="M176.1,7.5H187.3" stroke="#2e2e2e" stroke-width="0.75" fill="none"/><path d="M184.2,4.3Q185.2,6.9 187.6,7.5Q185.2,8.1 184.2,10.7" stroke="#2e2e2e" stroke-width="0.75" fill="none"/><text x="192.95" y="10.5" font-size="13.4" textLength="8.56" lengthAdjust="spacingAndGlyphs">tt</text><path d="M197.4,0.8H201.7" stroke="#2e2e2e" stroke-width="0.7"/><path d="M205.6,7.3H213.5M209.55,3.5V11.3" stroke="#2e2e2e" stroke-width="0.75"/><text x="217.75" y="10.5" font-size="13.4" textLength="8.96" lengthAdjust="spacingAndGlyphs">X</text></g>
<g transform="translate(0,0)"><text x="166.38" y="249.6" font-size="13.8" textLength="10.05" lengthAdjust="spacingAndGlyphs" font-style="italic">M</text><text x="177.98" y="252.4" font-size="9.2" textLength="6.52" lengthAdjust="spacingAndGlyphs">tt</text><path d="M181.9,245.4H184.7" stroke="#2e2e2e" stroke-width="0.6"/><text x="189.65" y="249.6" font-size="13.8" textLength="28.99" lengthAdjust="spacingAndGlyphs">[GeV]</text></g>
<g transform="translate(338.85,0)"><text x="166.38" y="249.6" font-size="13.8" textLength="10.05" lengthAdjust="spacingAndGlyphs" font-style="italic">M</text><text x="177.98" y="252.4" font-size="9.2" textLength="6.52" lengthAdjust="spacingAndGlyphs">tt</text><path d="M181.9,245.4H184.7" stroke="#2e2e2e" stroke-width="0.6"/><text x="189.65" y="249.6" font-size="13.8" textLength="28.99" lengthAdjust="spacingAndGlyphs">[GeV]</text></g>
<g transform="translate(16.9,240) rotate(-90)"><text x="9.69" y="0" font-size="13.8" textLength="88.88" lengthAdjust="spacingAndGlyphs">NLO EW on/off</text><text x="102.42" y="0" font-size="13.8" textLength="15.66" lengthAdjust="spacingAndGlyphs">[%]</text></g>
<g transform="translate(354.6,240) rotate(-90)"><text x="120.39" y="0" font-size="13.8" textLength="90.65" lengthAdjust="spacingAndGlyphs">PDF uncertainty</text><text x="215.82" y="0" font-size="13.8" textLength="15.55" lengthAdjust="spacingAndGlyphs">[%]</text></g>
<g transform="translate(354.3,240) rotate(-90)"><text x="46.13" y="0" font-size="13.8" textLength="20.08" lengthAdjust="spacingAndGlyphs">Pull</text><text x="69.56" y="0" font-size="13.8">[</text><text x="73.89" y="0" font-size="13.8" textLength="5.08" lengthAdjust="spacingAndGlyphs" font-style="italic">σ</text><text x="80.41" y="0" font-size="13.8">]</text></g>
<g transform="translate(12,240) rotate(-90)"><path d="M134.5,-3.8 H154" stroke="#2e2e2e" stroke-width="0.7"/><text x="138.99" y="-6.2" font-size="9.2" textLength="4.4" lengthAdjust="spacingAndGlyphs">d</text><text x="144.02" y="-6.2" font-size="9.2" textLength="4.58" lengthAdjust="spacingAndGlyphs" font-style="italic">σ</text><text x="134.71" y="3.9" font-size="9.2" textLength="4.18" lengthAdjust="spacingAndGlyphs">d</text><text x="139.82" y="3.9" font-size="9.2" textLength="6.52" lengthAdjust="spacingAndGlyphs" font-style="italic">M</text><text x="147.91" y="5.8" font-size="6.6" textLength="4.79" lengthAdjust="spacingAndGlyphs">tt</text><path d="M150.2,1.2 H152.8" stroke="#2e2e2e" stroke-width="0.5"/><text x="159.46" y="0" font-size="13.8" textLength="16.65" lengthAdjust="spacingAndGlyphs">[pb</text><text x="178.1" y="0" font-size="13.8" textLength="23.46" lengthAdjust="spacingAndGlyphs">GeV</text><text x="202.22" y="-5.4" font-size="9.2" textLength="12.37" lengthAdjust="spacingAndGlyphs">−1</text><text x="213.81" y="0" font-size="13.8">]</text></g>
</svg>
</body></html>
